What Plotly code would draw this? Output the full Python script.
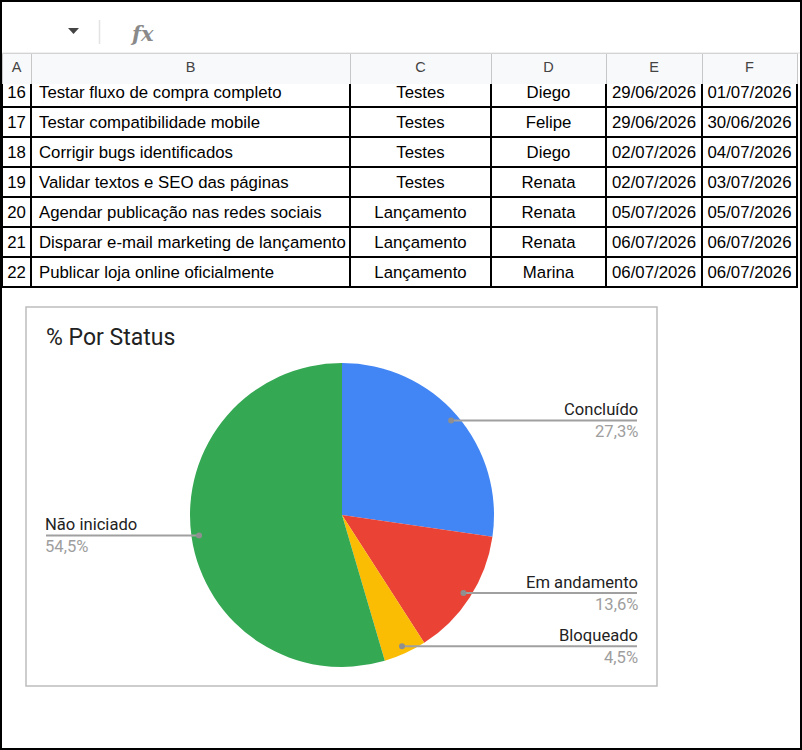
import math
import plotly.graph_objects as go

W, H = 802, 750

# planilha (linhas 16 a 22 visiveis)
col_letters = ["A", "B", "C", "D", "E", "F"]
row_numbers = [16, 17, 18, 19, 20, 21, 22]
tasks = [
    "Testar fluxo de compra completo",
    "Testar compatibilidade mobile",
    "Corrigir bugs identificados",
    "Validar textos e SEO das páginas",
    "Agendar publicação nas redes sociais",
    "Disparar e-mail marketing de lançamento",
    "Publicar loja online oficialmente",
]
phases = ["Testes", "Testes", "Testes", "Testes", "Lançamento", "Lançamento", "Lançamento"]
owners = ["Diego", "Felipe", "Diego", "Renata", "Renata", "Renata", "Marina"]
start_dates = ["29/06/2026", "29/06/2026", "02/07/2026", "02/07/2026",
               "05/07/2026", "06/07/2026", "06/07/2026"]
end_dates = ["01/07/2026", "30/06/2026", "04/07/2026", "03/07/2026",
             "05/07/2026", "06/07/2026", "06/07/2026"]

# grafico de pizza
status_labels = ["Concluído", "Em andamento", "Bloqueado", "Não iniciado"]
status_counts = [6, 3, 1, 12]
status_colors = ["#4285F4", "#EA4335", "#FBBC04", "#34A853"]


def px(x):
    return x / W


def py(y):
    return 1 - y / H


def nowrap(col):
    # celulas do Sheets nao quebram linha
    return [str(v).replace(" ", "\u00a0") for v in col]


col_widths = [29, 319, 141, 115, 96, 95]
tbl_x = [px(2), px(797)]
body_cols = [nowrap(c) for c in [row_numbers, tasks, phases, owners, start_dates, end_dates]]
aligns = ["center", "left", "center", "center", "center", "center"]
cell_font = dict(family="Liberation Sans, Arial", size=16.8, color="#000000")

fig = go.Figure()

# corpo da tabela: a linha 16 fica parcialmente escondida sob o cabecalho
fig.add_trace(go.Table(
    domain=dict(x=tbl_x, y=[py(290), py(77)]),
    columnwidth=col_widths,
    header=dict(values=[[c[0]] for c in body_cols], height=30, align=aligns,
                fill_color="white", font=cell_font,
                line=dict(color="black", width=2)),
    cells=dict(values=[c[1:] for c in body_cols], height=30, align=aligns,
               fill_color="white", font=cell_font,
               line=dict(color="black", width=2)),
))

# cabecalho das colunas
fig.add_trace(go.Table(
    domain=dict(x=tbl_x, y=[py(85), py(53)]),
    columnwidth=col_widths,
    header=dict(values=col_letters, height=32, align="center",
                fill_color="#f8f9fa",
                font=dict(family="Liberation Sans, Arial", size=14.5, color="#444444"),
                line=dict(color="#c7c7c7", width=1)),
    cells=dict(values=[[] for _ in col_letters]),
))

# pizza
cx, cy, r = 342, 515, 152
fig.add_trace(go.Pie(
    labels=status_labels, values=status_counts, sort=False,
    direction="clockwise", rotation=0,
    marker=dict(colors=status_colors, line=dict(width=0)),
    textinfo="none", hoverinfo="label+percent", showlegend=False,
    domain=dict(x=[px(cx - r), px(cx + r)], y=[py(cy + r), py(cy - r)]),
))

tri = f"M {px(68)} {py(28)} L {px(79)} {py(28)} L {px(73.5)} {py(34)} Z"
shapes = [
    dict(type="rect", xref="paper", yref="paper", x0=px(26), x1=px(657),
         y0=py(686), y1=py(307), line=dict(color="#bdbdbd", width=1.5)),
    dict(type="line", xref="paper", yref="paper", x0=0, x1=1,
         y0=py(53), y1=py(53), line=dict(color="#e0e0e0", width=1)),
    dict(type="line", xref="paper", yref="paper", x0=px(99.5), x1=px(99.5),
         y0=py(20), y1=py(44), line=dict(color="#e3e3e3", width=1.5)),
    dict(type="path", xref="paper", yref="paper", path=tri,
         fillcolor="#444444", line=dict(width=0)),
    dict(type="rect", xref="paper", yref="paper", x0=px(1), x1=px(801),
         y0=py(749), y1=py(1), line=dict(color="black", width=2)),
]

annotations = [
    dict(text="<b>fx</b>", x=px(128), y=py(33),
         font=dict(family="DejaVu Serif", size=21, color="#8a8a8a", style="italic")),
    dict(text="% Por Status", x=px(44), y=py(337), xanchor="left",
         font=dict(family="Roboto", size=23, color="#222222")),
]

total = sum(status_counts)
acc = 0
for lab, val in zip(status_labels, status_counts):
    mid = (acc + val / 2) / total * 2 * math.pi
    acc += val
    dx = cx + 0.95 * r * math.sin(mid)
    dy = cy - 0.95 * r * math.cos(mid)
    right = math.sin(mid) >= 0
    ex = 637 if right else 46
    tx = ex + 3 if right else ex - 3
    anchor = "right" if right else "left"
    shapes.append(dict(type="line", xref="paper", yref="paper",
                       x0=px(dx), x1=px(ex), y0=py(dy), y1=py(dy),
                       line=dict(color="#a0a0a0", width=2)))
    shapes.append(dict(type="circle", xref="paper", yref="paper",
                       x0=px(dx - 3), x1=px(dx + 3), y0=py(dy + 3), y1=py(dy - 3),
                       fillcolor="#8f8f8f", line=dict(width=0)))
    pct = f"{val / total * 100:.1f}".replace(".", ",") + "%"
    annotations.append(dict(text=lab, x=px(tx), y=py(dy - 11), xanchor=anchor,
                            font=dict(family="Roboto", size=16.6, color="#222222")))
    annotations.append(dict(text=pct, x=px(tx), y=py(dy + 11), xanchor=anchor,
                            font=dict(family="Roboto", size=16.6, color="#9e9e9e")))

for a in annotations:
    a.update(xref="paper", yref="paper", showarrow=False)
    a.setdefault("yanchor", "middle")

fig.update_layout(
    width=W, height=H, margin=dict(l=0, r=0, t=0, b=0),
    paper_bgcolor="white", plot_bgcolor="white",
    shapes=shapes, annotations=annotations,
)

fig.write_html("out.html", config={"displayModeBar": False},
               post_script="document.body.style.margin = '0';")
